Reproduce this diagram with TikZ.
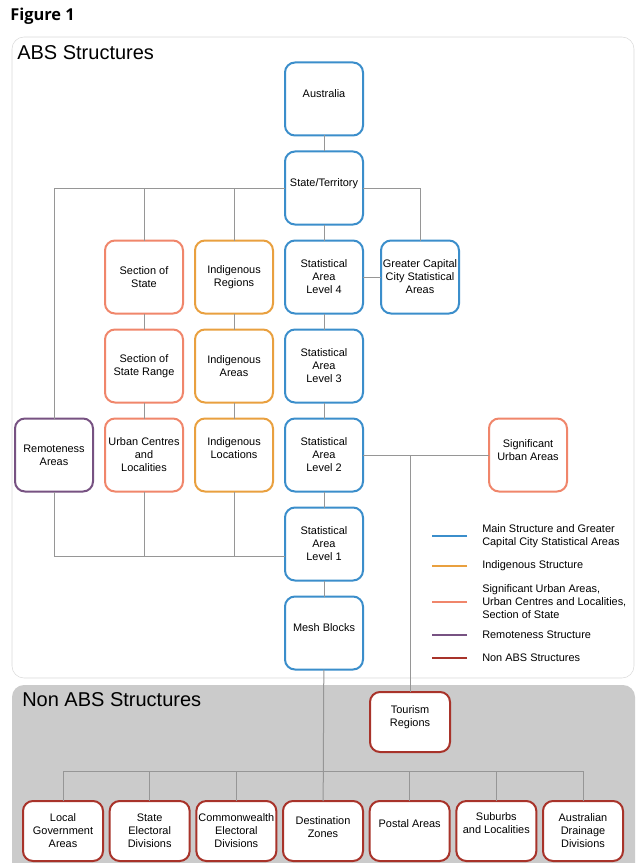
\documentclass[tikz,border=0pt]{standalone}
\usepackage{fontspec}
\setmainfont{Liberation Sans}
\newfontfamily\figfont{Open Sans}
\usetikzlibrary{positioning}

\definecolor{absblue}{HTML}{3B8ECB}
\definecolor{indorange}{HTML}{E9A03F}
\definecolor{urbsalmon}{HTML}{F0866B}
\definecolor{rempurple}{HTML}{775282}
\definecolor{nonred}{HTML}{A8332A}
\definecolor{linkgray}{HTML}{969696}
\definecolor{regiongray}{HTML}{CBCBCB}
\definecolor{regionedge}{HTML}{DADADA}

\tikzset{
	area/.style={draw, line width=1.5pt, rounded corners=7.5pt, fill=white,
		minimum width=58.5pt, minimum height=54.75pt, align=center,
		inner sep=1pt, outer sep=0pt, font=\fontsize{8.2}{9.75}\selectfont},
	nonarea/.style={area, draw=nonred, minimum width=60pt, minimum height=45pt},
	lift/.style={text height=6pt, text depth=#1},
	lifttwo/.style={text depth=#1},
	link/.style={draw=linkgray, line width=0.75pt},
	legline/.style={line width=1.5pt},
	legtext/.style={anchor=west, align=left, inner sep=0pt,
		font=\fontsize{8.2}{9.75}\selectfont},
	regiontitle/.style={anchor=base west, inner sep=0pt, font=\fontsize{15}{17}\selectfont},
}

\begin{document}
\begin{tikzpicture}[
		x=0.75pt, y=-0.75pt,
		node distance=12pt and 9pt,
	]
		\useasboundingbox (0,0) rectangle (640,863);
		% regions
		\fill[regiongray, rounded corners=9pt] (12,685) rectangle (635,900);
		\draw[regionedge, fill=white, rounded corners=9pt] (12,37) rectangle (634,678);
		\node[anchor=base west, inner sep=0pt, font=\figfont\bfseries\fontsize{12.3}{14}\selectfont] (fig) at (10,21) {Figure 1};
		\node[regiontitle] (abstitle) at (17,60) {ABS Structures};
		\node[regiontitle] (nontitle) at (22,706) {Non ABS Structures};

		% main structure
		\node[area, draw=absblue, lift=8pt] (aus) at (324,99) {Australia};
		\node[area, draw=absblue, lift=9pt, below=of aus] (st) {State/Territory};
		\node[area, draw=absblue, below=of st] (sa4) {Statistical\\Area\\Level 4};
		\node[area, draw=absblue, below=of sa4] (sa3) {Statistical\\Area\\Level 3};
		\node[area, draw=absblue, below=of sa3] (sa2) {Statistical\\Area\\Level 2};
		\node[area, draw=absblue, below=of sa2] (sa1) {Statistical\\Area\\Level 1};
		\node[area, draw=absblue, lift=9pt, below=of sa1] (mb) {Mesh Blocks};
		\node[area, draw=absblue, right=13.5pt of sa4] (gcc) {Greater Capital\\City Statistical\\Areas};

		% indigenous and urban structures
		\node[area, draw=indorange, left=of sa4] (ir) {Indigenous\\Regions};
		\node[area, draw=indorange, left=of sa3] (ia) {Indigenous\\Areas};
		\node[area, draw=indorange, lifttwo=10.5pt, left=of sa2] (il) {Indigenous\\Locations};
		\node[area, draw=urbsalmon, left=of ir] (sos) {Section of\\State};
		\node[area, draw=urbsalmon, left=of ia] (sosr) {Section of\\State Range};
		\node[area, draw=urbsalmon, left=of il] (ucl) {Urban Centres\\and\\Localities};
		\node[area, draw=rempurple, left=of ucl] (rem) {Remoteness\\Areas};
		\node[area, draw=urbsalmon, lifttwo=6.8pt] (sua) at (528,455) {Significant\\Urban Areas};

		% non ABS structures
		\node[nonarea, lifttwo=8.5pt] (tr) at (410,722) {Tourism\\Regions};
		\node[nonarea, lifttwo=6pt] (dz) at (323,831) {Destination\\Zones};
		\node[nonarea, left=5pt of dz] (ced) {Commonwealth\\Electoral\\Divisions};
		\node[nonarea, left=5pt of ced] (sed) {State\\Electoral\\Divisions};
		\node[nonarea, left=5pt of sed] (lga) {Local\\Government\\Areas};
		\node[nonarea, lift=12pt, right=5pt of dz] (pa) {Postal Areas};
		\node[nonarea, lifttwo=12pt, right=5pt of pa] (sl) {Suburbs\\and Localities};
		\node[nonarea, right=5pt of sl] (add) {Australian\\Drainage\\Divisions};

		% connectors
		\coordinate (lowbus) at ([yshift=-9.4pt]sa1.west);
		\coordinate (nonbus) at ([yshift=22.5pt]dz.north);
		\draw[link] (aus) -- (st) -- (sa4) -- (sa3) -- (sa2) -- (sa1) -- (mb);
		\draw[link] (mb) -- (dz);
		\draw[link] (sa4) -- (gcc);
		\draw[link] (st.east) -| (gcc.north);
		\draw[link] (st.west) -| (rem.north);
		\draw[link] (sos.north) -- (sos.north |- st.west);
		\draw[link] (ir.north) -- (ir.north |- st.west);
		\draw[link] (sos) -- (sosr) -- (ucl);
		\draw[link] (ir) -- (ia) -- (il);
		\draw[link] (lowbus) -| (rem.south);
		\draw[link] (ucl.south) -- (ucl.south |- lowbus);
		\draw[link] (il.south) -- (il.south |- lowbus);
		\draw[link] (sa2.east) -- (sua.west);
		\draw[link] (tr.north) -- (tr.north |- sa2.east);
		\draw[link] (lga.north |- nonbus) -- (add.north |- nonbus);
		\foreach \n in {lga,sed,ced,pa,sl,add}
			\draw[link] (\n.north) -- (\n.north |- nonbus);

		% legend
		\foreach \y/\col/\txt [count=\i] in {
				536/absblue/{Main Structure and Greater\\Capital City Statistical Areas},
				566/indorange/{Indigenous Structure},
				602/urbsalmon/{Significant Urban Areas,\\Urban Centres and Localities,\\Section of State},
				635/rempurple/{Remoteness Structure},
				658/nonred/{Non ABS Structures}} {
			\node[legtext] (leg\i) at (482,\y) {\txt};
			\draw[legline, \col] ([xshift=-11.25pt]leg\i.west) -- ++(-35,0);
		}
	\end{tikzpicture}
\end{document}
